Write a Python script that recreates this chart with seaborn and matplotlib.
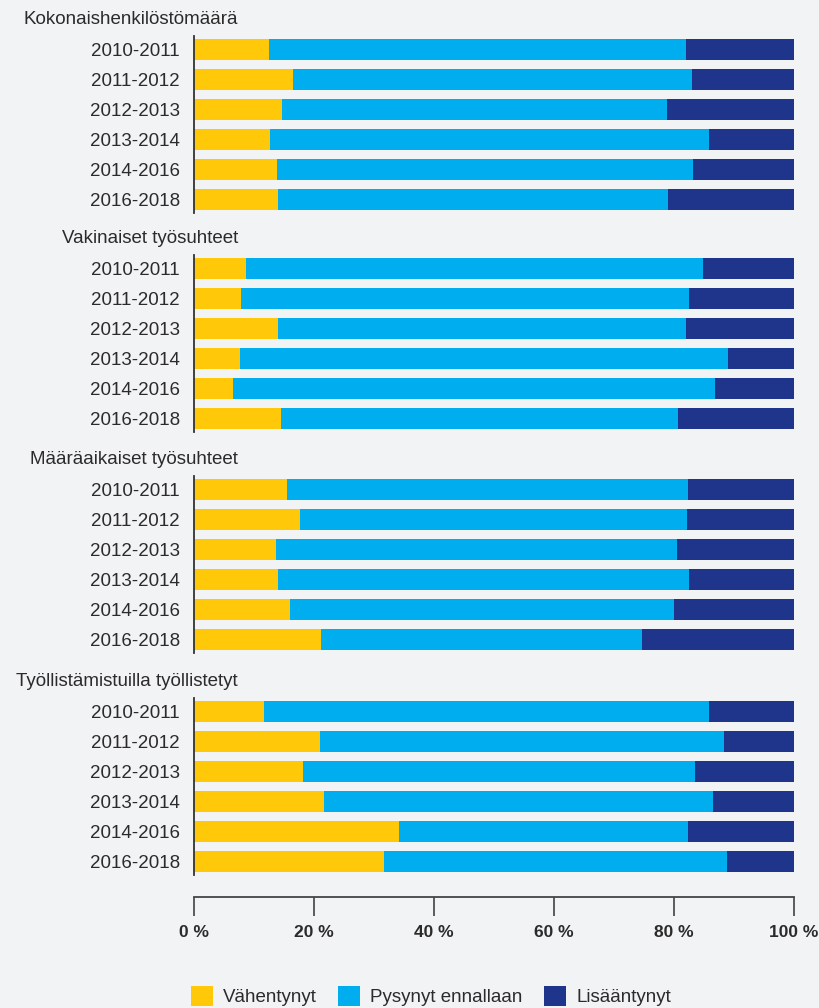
import pandas as pd
import matplotlib
matplotlib.use("Agg")
import matplotlib.pyplot as plt
from matplotlib.patches import Patch
import seaborn as sns

sns.set_style("white")
plt.rcParams["font.family"] = ["Liberation Sans", "DejaVu Sans"]

# ---- data (shares in %) ----
periods = ["2010-2011", "2011-2012", "2012-2013", "2013-2014", "2014-2016", "2016-2018"]
groups = ["Kokonaishenkilöstömäärä", "Vakinaiset työsuhteet",
          "Määräaikaiset työsuhteet", "Työllistämistuilla työllistetyt"]
series = ["Vähentynyt", "Pysynyt ennallaan", "Lisääntynyt"]

koko_vah = [12.5, 16.5, 14.7, 12.7, 13.8, 14.0]
koko_pys = [69.5, 66.5, 64.1, 73.1, 69.4, 65.0]
koko_lis = [18.0, 17.0, 21.2, 14.2, 16.8, 21.0]

vak_vah = [8.7, 7.8, 14.0, 7.7, 6.5, 14.5]
vak_pys = [76.1, 74.7, 68.0, 81.3, 80.3, 66.2]
vak_lis = [15.2, 17.5, 18.0, 11.0, 13.2, 19.3]

maar_vah = [15.5, 17.7, 13.7, 14.0, 16.0, 21.2]
maar_pys = [66.8, 64.5, 66.8, 68.5, 64.0, 53.5]
maar_lis = [17.7, 17.8, 19.5, 17.5, 20.0, 25.3]

tuki_vah = [11.7, 21.0, 18.2, 21.7, 34.2, 31.7]
tuki_pys = [74.1, 67.3, 65.3, 64.8, 48.1, 57.1]
tuki_lis = [14.2, 11.7, 16.5, 13.5, 17.7, 11.2]

colors = ["#FFC808", "#00AEEF", "#1F358C"]
bg = "#F2F3F5"
txt = "#2B2B2B"

group_data = [
    (koko_vah, koko_pys, koko_lis),
    (vak_vah, vak_pys, vak_lis),
    (maar_vah, maar_pys, maar_lis),
    (tuki_vah, tuki_pys, tuki_lis),
]

# ============================================================
# FIGURE
# ============================================================
W, H = 820, 1008
fig = plt.figure(figsize=(W / 100, H / 100), dpi=100, facecolor=bg)

ax_tops = [36, 255, 476, 698]   # pixel top of each panel
ax_h = 177
left, width = 194 / W, 600 / W

for i, (name, (vah, pys, lis)) in enumerate(zip(groups, group_data)):
    ax = fig.add_axes([left, 1 - (ax_tops[i] + ax_h) / H, width, ax_h / H])
    ax.set_facecolor(bg)

    df = pd.DataFrame({"period": periods, "vah": vah, "pys": pys, "lis": lis})
    df["end_pys"] = df["vah"] + df["pys"]
    df["end_lis"] = df["end_pys"] + df["lis"]

    # stacked: draw the longest first
    for col, c in zip(["end_lis", "end_pys", "vah"], colors[::-1]):
        sns.barplot(data=df, x=col, y="period", orient="h", color=c,
                    saturation=1, width=0.73, linewidth=0, ax=ax)

    ax.set_xlim(0, 100)
    ax.set_ylim(5.45, -0.45)
    ax.set_xlabel("")
    ax.set_ylabel("")
    for s in ["top", "right", "bottom"]:
        ax.spines[s].set_visible(False)
    ax.spines["left"].set_color("#333333")
    ax.spines["left"].set_linewidth(1.3)
    ax.tick_params(axis="y", length=0, pad=10, labelsize=13.5, labelcolor=txt)

    ax.annotate(name, xy=(0, 1), xycoords="axes fraction",
                xytext=(31.7, 12.2), textcoords="offset points",
                ha="right", va="center", fontsize=13.5, color=txt)

    if i < 3:
        ax.set_xticks([])
    else:
        ax.spines["bottom"].set_visible(True)
        ax.spines["bottom"].set_position(("outward", 16))
        ax.spines["bottom"].set_color("#444444")
        ax.spines["bottom"].set_linewidth(1.3)
        ax.set_xticks([0, 20, 40, 60, 80, 100])
        ax.set_xticklabels([f"{v} %" for v in [0, 20, 40, 60, 80, 100]],
                           fontweight="bold")
        ax.tick_params(axis="x", bottom=True, direction="out", length=14, width=1.1,
                       color="#333333", pad=6, labelsize=12.5, labelcolor=txt)

handles = [Patch(facecolor=c, edgecolor="none", label=s) for c, s in zip(colors, series)]
fig.legend(handles=handles, loc="center left", bbox_to_anchor=(191 / W, 12 / H),
           ncol=3, frameon=False, fontsize=13.5, handlelength=1.15, handleheight=1.25,
           handletextpad=0.55, columnspacing=1.15, borderpad=0, borderaxespad=0,
           labelcolor=txt)

fig.savefig("out.png", dpi=100, facecolor=bg)
